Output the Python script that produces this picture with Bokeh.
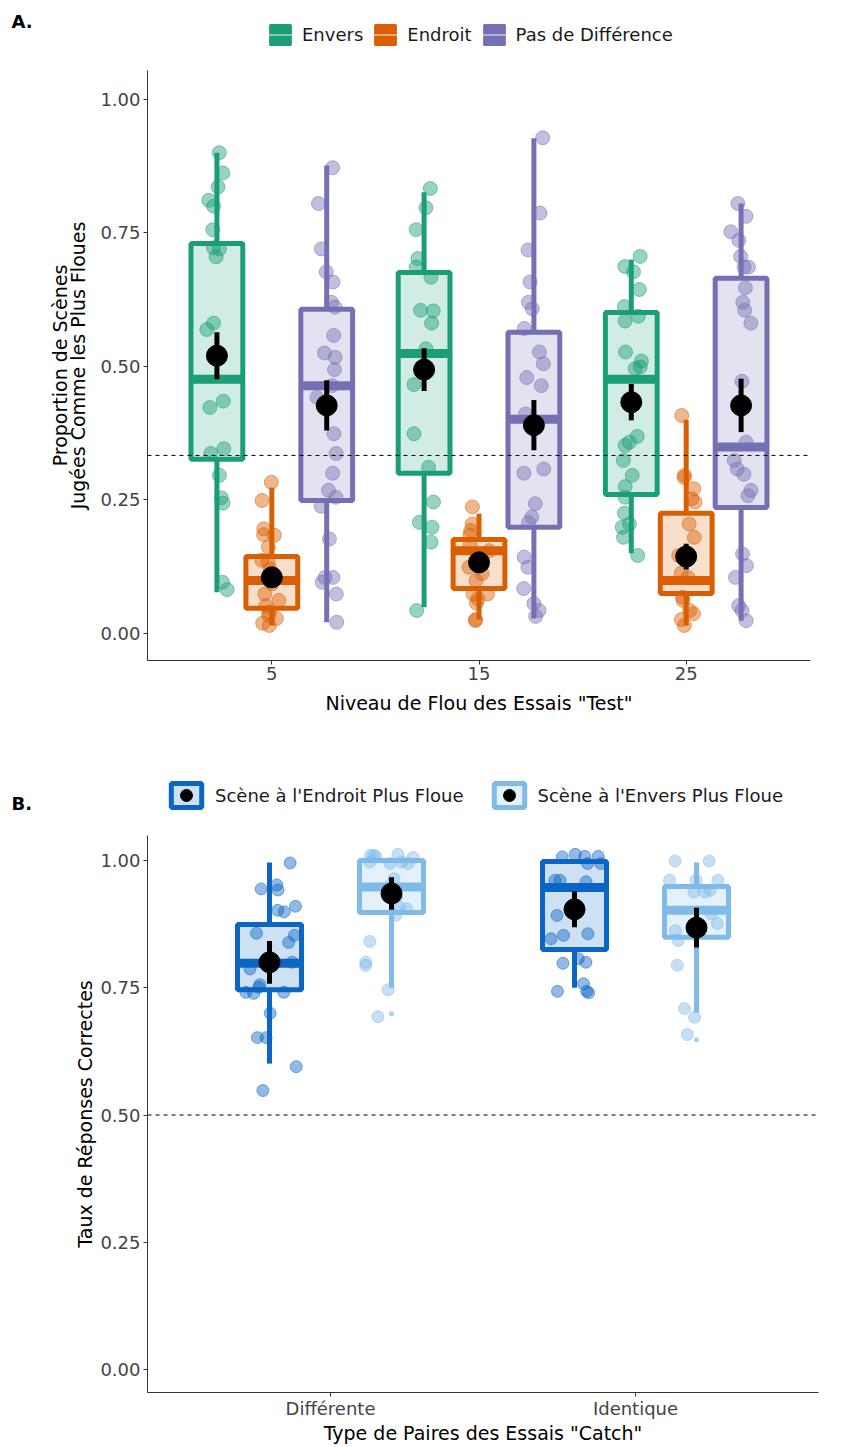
from bokeh.plotting import figure
from bokeh.models import (ColumnDataSource, Range1d, FixedTicker, NumeralTickFormatter,
                          Span, Legend, LegendItem, Label)
from bokeh.layouts import column
from bokeh.transform import jitter
from bokeh.embed import file_html
from bokeh.resources import INLINE

FONT = "DejaVu Sans"

# ---------------- Panel A data ----------------
a_levels = ["5", "15", "25"]
a_series = ["Envers", "Endroit", "Pas de Différence"]
a_colors = {"Envers": "#1B9E77", "Endroit": "#D95F02", "Pas de Différence": "#7570B3"}

a_lower = {"Envers": [0.077, 0.049, 0.150], "Endroit": [0.015, 0.026, 0.015],
           "Pas de Différence": [0.021, 0.028, 0.024]}
a_q1 = {"Envers": [0.326, 0.300, 0.260], "Endroit": [0.047, 0.084, 0.075],
        "Pas de Différence": [0.249, 0.199, 0.236]}
a_median = {"Envers": [0.476, 0.524, 0.476], "Endroit": [0.099, 0.155, 0.099],
            "Pas de Différence": [0.464, 0.401, 0.349]}
a_q3 = {"Envers": [0.730, 0.676, 0.601], "Endroit": [0.144, 0.176, 0.225],
        "Pas de Différence": [0.607, 0.564, 0.665]}
a_upper = {"Envers": [0.900, 0.826, 0.700], "Endroit": [0.273, 0.224, 0.400],
           "Pas de Différence": [0.876, 0.927, 0.805]}
a_mean = {"Envers": [0.520, 0.494, 0.433], "Endroit": [0.105, 0.133, 0.144],
          "Pas de Différence": [0.427, 0.390, 0.427]}
a_se = {"Envers": [0.044, 0.040, 0.034], "Endroit": [0.020, 0.020, 0.024],
        "Pas de Différence": [0.047, 0.047, 0.050]}

a_points = {
    "Envers": {
        "5": [0.900, 0.862, 0.836, 0.811, 0.800, 0.756, 0.722, 0.720, 0.705, 0.581, 0.569,
              0.435, 0.423, 0.346, 0.337, 0.296, 0.254, 0.244, 0.096, 0.082],
        "15": [0.833, 0.797, 0.756, 0.702, 0.686, 0.667, 0.605, 0.604, 0.581, 0.533, 0.466,
               0.374, 0.311, 0.246, 0.208, 0.199, 0.171, 0.043],
        "25": [0.706, 0.687, 0.677, 0.644, 0.612, 0.594, 0.585, 0.527, 0.510, 0.499, 0.496,
               0.369, 0.358, 0.352, 0.324, 0.296, 0.275, 0.255, 0.225, 0.205, 0.199, 0.180, 0.146],
    },
    "Endroit": {
        "5": [0.283, 0.249, 0.196, 0.185, 0.184, 0.162, 0.137, 0.134, 0.121, 0.099, 0.093,
              0.074, 0.062, 0.052, 0.040, 0.034, 0.028, 0.019, 0.015],
        "15": [0.237, 0.205, 0.193, 0.184, 0.165, 0.155, 0.145, 0.124, 0.112, 0.099, 0.074,
               0.074, 0.065, 0.057, 0.026, 0.024],
        "25": [0.408, 0.296, 0.292, 0.271, 0.252, 0.246, 0.205, 0.180, 0.149, 0.146, 0.113,
               0.105, 0.068, 0.062, 0.043, 0.037, 0.026, 0.015],
    },
    "Pas de Différence": {
        "5": [0.872, 0.805, 0.720, 0.677, 0.658, 0.620, 0.611, 0.558, 0.525, 0.517, 0.494,
              0.464, 0.442, 0.374, 0.337, 0.300, 0.268, 0.255, 0.238, 0.177, 0.105, 0.105,
              0.096, 0.074, 0.021],
        "15": [0.928, 0.787, 0.718, 0.658, 0.620, 0.608, 0.571, 0.527, 0.505, 0.479, 0.464,
               0.411, 0.308, 0.300, 0.243, 0.218, 0.208, 0.143, 0.124, 0.084, 0.056, 0.043, 0.032],
        "25": [0.805, 0.781, 0.752, 0.736, 0.706, 0.686, 0.686, 0.647, 0.620, 0.605, 0.581,
               0.472, 0.358, 0.324, 0.308, 0.298, 0.268, 0.258, 0.149, 0.127, 0.105, 0.052,
               0.043, 0.024],
    },
}
a_chance = 1 / 3

# ---------------- Panel B data ----------------
b_types = ["Différente", "Identique"]
b_series = ["Scène à l'Endroit Plus Floue", "Scène à l'Envers Plus Floue"]
b_colors = {"Scène à l'Endroit Plus Floue": "#0B66C3", "Scène à l'Envers Plus Floue": "#7FBBE8"}

b_lower = {"Scène à l'Endroit Plus Floue": [0.601, 0.750], "Scène à l'Envers Plus Floue": [0.750, 0.701]}
b_q1 = {"Scène à l'Endroit Plus Floue": [0.746, 0.825], "Scène à l'Envers Plus Floue": [0.898, 0.849]}
b_median = {"Scène à l'Endroit Plus Floue": [0.798, 0.947], "Scène à l'Envers Plus Floue": [0.948, 0.902]}
b_q3 = {"Scène à l'Endroit Plus Floue": [0.874, 0.998], "Scène à l'Envers Plus Floue": [1.000, 0.949]}
b_upper = {"Scène à l'Endroit Plus Floue": [0.996, 1.000], "Scène à l'Envers Plus Floue": [1.000, 0.996]}
b_mean = {"Scène à l'Endroit Plus Floue": [0.800, 0.904], "Scène à l'Envers Plus Floue": [0.935, 0.868]}
b_se = {"Scène à l'Endroit Plus Floue": [0.042, 0.035], "Scène à l'Envers Plus Floue": [0.032, 0.039]}

b_points = {
    "Scène à l'Endroit Plus Floue": {
        "Différente": [0.995, 0.952, 0.944, 0.942, 0.910, 0.902, 0.899, 0.857, 0.853, 0.839,
                       0.800, 0.787, 0.756, 0.751, 0.741, 0.741, 0.739, 0.700, 0.652, 0.652,
                       0.595, 0.548],
        "Identique": [1.012, 1.008, 1.008, 1.007, 0.994, 0.994, 0.961, 0.961, 0.958, 0.908,
                      0.892, 0.856, 0.853, 0.846, 0.807, 0.800, 0.798, 0.758, 0.743, 0.743, 0.740],
    },
    "Scène à l'Envers Plus Floue": {
        "Différente": [1.012, 1.010, 1.010, 1.008, 1.006, 0.997, 0.997, 0.994, 0.994, 0.964,
                       0.951, 0.928, 0.908, 0.905, 0.892, 0.841, 0.800, 0.794, 0.746, 0.693],
        "Identique": [0.999, 0.999, 0.961, 0.961, 0.961, 0.941, 0.938, 0.938, 0.895, 0.876,
                      0.862, 0.843, 0.794, 0.709, 0.692, 0.658],
    },
}
b_outliers = {
    "Scène à l'Endroit Plus Floue": {"Différente": [], "Identique": []},
    "Scène à l'Envers Plus Floue": {"Différente": [0.699], "Identique": [0.648]},
}
b_chance = 0.5

W = 859


def style_axes(p):
    p.grid.visible = False
    p.outline_line_color = None
    p.background_fill_color = "white"
    p.border_fill_color = "white"
    for ax in p.axis:
        ax.axis_line_color = "#333333"
        ax.axis_line_width = 1
        ax.major_tick_line_color = "#333333"
        ax.major_tick_out = 4
        ax.major_tick_in = 0
        ax.minor_tick_line_color = None
        ax.major_label_text_font = FONT
        ax.major_label_text_font_size = "18px"
        ax.major_label_text_color = "#444444"
        ax.axis_label_text_font = FONT
        ax.axis_label_text_font_size = "19px"
        ax.axis_label_text_font_style = "normal"
        ax.axis_label_text_color = "black"


def header_fig(height):
    h = figure(width=W, height=height, x_range=Range1d(0, 1), y_range=Range1d(0, 1),
               x_axis_type=None, y_axis_type=None, output_backend="svg",
               toolbar_location=None, min_border=0, frame_align=False)
    h.grid.visible = False
    h.outline_line_color = None
    h.background_fill_color = "white"
    h.border_fill_color = "white"
    return h


def box_source(xs, lower, q1, med, q3, upper, mean, se, half):
    return ColumnDataSource(dict(
        x=xs, x0=[x - half for x in xs], x1=[x + half for x in xs],
        lower=lower, q1=q1, med=med, q3=q3, upper=upper, mean=mean,
        lo=[m - s for m, s in zip(mean, se)], hi=[m + s for m, s in zip(mean, se)]))


def draw_panel(p, cats, series, colors, lower, q1, med, q3, upper, mean, se, points,
               dodge, box_w, jit_w, pt_size, outliers=None):
    n = len(series)
    srcs, centers = {}, {}
    for i, s in enumerate(series):
        off = (i - (n - 1) / 2) * dodge
        xs = [g + 1 + off for g in range(len(cats))]
        centers[s] = xs
        srcs[s] = box_source(xs, lower[s], q1[s], med[s], q3[s], upper[s], mean[s], se[s], box_w / 2)
    for s in series:
        c = colors[s]
        src = srcs[s]
        p.segment(x0="x", y0="q3", x1="x", y1="upper", source=src, line_color=c, line_width=5)
        p.segment(x0="x", y0="lower", x1="x", y1="q1", source=src, line_color=c, line_width=5)
        p.vbar(x="x", width=box_w, bottom="q1", top="q3", source=src,
               fill_color=c, fill_alpha=0.2, line_color=c, line_width=5)
        p.segment(x0="x0", y0="med", x1="x1", y1="med", source=src,
                  line_color=c, line_width=9, line_cap="butt")
        if outliers is not None:
            ox, oy = [], []
            for gi, cat in enumerate(cats):
                for v in outliers[s][cat]:
                    ox.append(centers[s][gi])
                    oy.append(v)
            p.scatter(x=ox, y=oy, size=5, fill_color=c, fill_alpha=0.7, line_color=None)
    for s in series:
        c = colors[s]
        px, py = [], []
        for gi, cat in enumerate(cats):
            for v in points[s][cat]:
                px.append(centers[s][gi])
                py.append(v)
        psrc = ColumnDataSource(dict(x=px, y=py))
        p.scatter(x=jitter("x", width=jit_w, distribution="uniform"), y="y", source=psrc,
                  size=pt_size, fill_color=c, fill_alpha=0.45, line_color=c, line_alpha=0.5,
                  line_width=1)
    for s in series:
        src = srcs[s]
        p.segment(x0="x", y0="lo", x1="x", y1="hi", source=src, line_color="black", line_width=5)
        p.scatter(x="x", y="mean", source=src, size=21, fill_color="black", line_color="black")


def proxy_source():
    # one hidden placeholder row so that the legend can draw its key glyphs
    return ColumnDataSource(dict(x=[0.5], y=[0.5], b=[0.5], t=[0.5]))


# ---------------- Header A (panel letter + legend) ----------------
ha = header_fig(60)
items_a = []
for s in a_series:
    c = a_colors[s]
    ps = proxy_source()
    rb = ha.vbar(x="x", top="t", bottom="b", width=0.01, source=ps, fill_color=c, fill_alpha=1.0,
                 line_color=c, line_width=2, visible=False)
    rm = ha.segment(x0="x", y0="y", x1="x", y1="y", source=ps, line_color="white",
                    line_alpha=0.45, line_width=2, line_cap="butt", visible=False)
    items_a.append(LegendItem(label=s, renderers=[rb, rm]))
leg_a = Legend(items=items_a, orientation="horizontal", location=(267, 13),
               glyph_width=26, glyph_height=25, label_height=25, label_standoff=9, spacing=9,
               padding=0, margin=0, border_line_color=None, background_fill_alpha=0,
               label_text_font=FONT, label_text_font_size="18px", label_text_color="#1a1a1a",
               label_text_baseline="middle")
ha.add_layout(leg_a)
ha.add_layout(Label(x=11, y=39, x_units="screen", y_units="screen", text="A.",
                    text_font=FONT, text_font_style="bold", text_font_size="18px",
                    text_baseline="middle", text_align="left", text_color="black"))

# ---------------- Figure A ----------------
pa = figure(width=W, height=680, x_range=Range1d(0.4, 3.6), y_range=Range1d(-0.0506, 1.054),
            output_backend="svg", toolbar_location=None, frame_align=False,
            min_border_left=147, min_border_right=49, min_border_top=10, min_border_bottom=80)
style_axes(pa)
pa.xaxis.ticker = FixedTicker(ticks=[1, 2, 3])
pa.xaxis.major_label_overrides = {i + 1: lab for i, lab in enumerate(a_levels)}
pa.xaxis.major_label_standoff = 2
pa.xaxis.axis_label = 'Niveau de Flou des Essais "Test"'
pa.xaxis.axis_label_standoff = 9
pa.yaxis.ticker = FixedTicker(ticks=[0, 0.25, 0.5, 0.75, 1.0])
pa.yaxis.formatter = NumeralTickFormatter(format="0.00")
pa.yaxis.major_label_standoff = 3
pa.yaxis.axis_label = "Proportion de Scènes\nJugées Comme les Plus Floues"
pa.yaxis.axis_label_text_line_height = 0.85
pa.yaxis.axis_label_standoff = 8

pa.add_layout(Span(location=a_chance, dimension="width", line_color="black",
                   line_width=1, line_dash="4 4"))
draw_panel(pa, a_levels, a_series, a_colors, a_lower, a_q1, a_median, a_q3, a_upper,
           a_mean, a_se, a_points, dodge=0.265, box_w=0.25, jit_w=0.1, pt_size=14)

# ---------------- Header B ----------------
hb = header_fig(80)
items_b = []
for s in b_series:
    c = b_colors[s]
    ps = proxy_source()
    rb = hb.vbar(x="x", top="t", bottom="b", width=0.01, source=ps, fill_color=c, fill_alpha=0.2,
                 line_color=c, line_width=5, visible=False)
    rd = hb.scatter(x="x", y="y", source=ps, size=21, fill_color="black", line_color="black",
                    visible=False)
    items_b.append(LegendItem(label=s, renderers=[rb, rd]))
leg_b = Legend(items=items_b, orientation="horizontal", location=(167, 10),
               glyph_width=38, glyph_height=30, label_height=30, label_standoff=10, spacing=26,
               padding=0, margin=0, border_line_color=None, background_fill_alpha=0,
               label_text_font=FONT, label_text_font_size="18px", label_text_color="#1a1a1a",
               label_text_baseline="middle")
hb.add_layout(leg_b)
hb.add_layout(Label(x=11, y=17, x_units="screen", y_units="screen", text="B.",
                    text_font=FONT, text_font_style="bold", text_font_size="18px",
                    text_baseline="middle", text_align="left", text_color="black"))

# ---------------- Figure B ----------------
pb = figure(width=W, height=626, x_range=Range1d(0.4, 2.6), y_range=Range1d(-0.045, 1.049),
            output_backend="svg", toolbar_location=None, frame_align=False,
            min_border_left=147, min_border_right=41, min_border_top=15, min_border_bottom=54)
style_axes(pb)
pb.xaxis.ticker = FixedTicker(ticks=[1, 2])
pb.xaxis.major_label_overrides = {i + 1: lab for i, lab in enumerate(b_types)}
pb.xaxis.major_label_standoff = 1
pb.xaxis.axis_label = 'Type de Paires des Essais "Catch"'
pb.xaxis.axis_label_standoff = 0
pb.yaxis.ticker = FixedTicker(ticks=[0, 0.25, 0.5, 0.75, 1.0])
pb.yaxis.formatter = NumeralTickFormatter(format="0.00")
pb.yaxis.major_label_standoff = 3
pb.yaxis.axis_label = "Taux de Réponses Correctes"
pb.yaxis.axis_label_standoff = 1

pb.add_layout(Span(location=b_chance, dimension="width", line_color="black",
                   line_width=1, line_dash="4 4"))
draw_panel(pb, b_types, b_series, b_colors, b_lower, b_q1, b_median, b_q3, b_upper,
           b_mean, b_se, b_points, dodge=0.4, box_w=0.21, jit_w=0.18, pt_size=12,
           outliers=b_outliers)

layout = column(ha, pa, hb, pb, spacing=0)
open("out.html", "w").write(file_html(layout, INLINE))
